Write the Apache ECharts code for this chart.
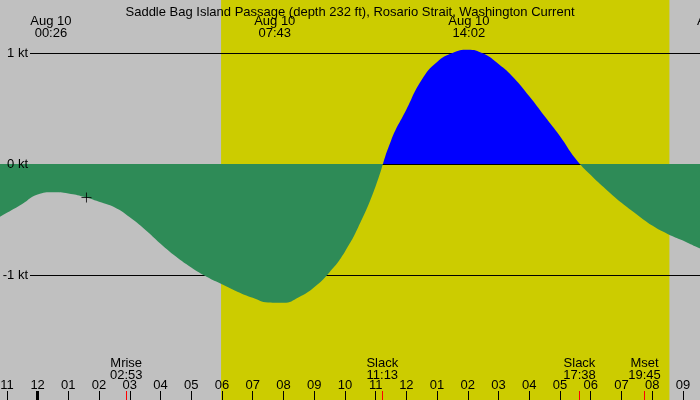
<!DOCTYPE html>
<html>
<head>
<meta charset="utf-8">
<title>Saddle Bag Island Passage current</title>
<script src="https://cdn.jsdelivr.net/npm/echarts@6/dist/echarts.min.js"></script>
<style>
    html, body { margin: 0; padding: 0; background: #c0c0c0; }
    #chart { width: 700px; height: 400px; }
</style>
</head>
<body>
<div id="chart"></div>
<script>
// hours since midnight Aug 10 (negative = Aug 9 evening), half-hour steps
const hours = [-1.5, -1.0, -0.5, 0.0, 0.5, 1.0, 1.5, 2.0, 2.5, 3.0, 3.5, 4.0, 4.5, 5.0, 5.5,
    6.0, 6.5, 7.0, 7.5, 8.0, 8.5, 9.0, 9.5, 10.0, 10.5, 11.0, 11.5, 12.0, 12.5, 13.0, 13.5,
    14.0, 14.5, 15.0, 15.5, 16.0, 16.5, 17.0, 17.5, 18.0, 18.5, 19.0, 19.5, 20.0, 20.5,
    21.0, 21.5, 22.0];
// current in knots (flood +, ebb -)
const knots = [-0.52, -0.44, -0.36, -0.275, -0.255, -0.265, -0.295, -0.34, -0.39, -0.48, -0.592,
    -0.718, -0.834, -0.932, -1.015, -1.083, -1.15, -1.205, -1.247, -1.25, -1.2, -1.11, -0.975,
    -0.79, -0.53, -0.2, 0.21, 0.49, 0.76, 0.92, 1.0, 1.03, 0.995, 0.9, 0.775, 0.61, 0.43, 0.25,
    0.05, -0.1, -0.23, -0.35, -0.455, -0.555, -0.63, -0.69, -0.755, -0.81];

const hourTicks = [-1, 0, 1, 2, 3, 4, 5, 6, 7, 8, 9, 10, 11, 12, 13, 14, 15, 16, 17, 18, 19, 20, 21, 22];
const hourLabels = ['11', '12', '01', '02', '03', '04', '05', '06', '07', '08', '09', '10', '11',
    '12', '01', '02', '03', '04', '05', '06', '07', '08', '09', '10'];

// max / min current events shown at the top
const peakHours = [0.433, 7.717, 14.033, 22.13];
const peakLabels = ['Aug 10\n00:26', 'Aug 10\n07:43', 'Aug 10\n14:02', 'Aug 10\n22:08'];

// slack water and moon events shown at the bottom
const eventHours = [2.883, 11.217, 17.633, 19.75];
const eventLabels = ['Mrise\n02:53', 'Slack\n11:13', 'Slack\n17:38', 'Mset\n19:45'];

const daylight = [5.97, 20.56];
const nowMark = [1.59, -0.302];

const kLevels = [1, 0, -1];

const X_MIN = -1.224, X_MAX = 22.857;
const Y_MIN = -2.126, Y_MAX = 1.4775;
const FONT = 'Liberation Sans, Arial, sans-serif';
const FS = 13;

const chart = echarts.init(document.getElementById('chart'));

function nearest(list, v) {
    let best = 0;
    list.forEach((h, i) => { if (Math.abs(h - v) < Math.abs(list[best] - v)) best = i; });
    return best;
}

function baseX(extra) {
    return Object.assign({
        type: 'value',
        gridIndex: 0,
        min: X_MIN,
        max: X_MAX,
        position: 'bottom',
        axisLine: { show: false, onZero: false },
        splitLine: { show: false },
        axisTick: { show: false },
        axisLabel: { show: false }
    }, extra);
}

const option = {
    backgroundColor: '#c0c0c0',
    animation: false,
    textStyle: { fontFamily: FONT },
    title: {
        text: 'Saddle Bag Island Passage (depth 232 ft), Rosario Strait, Washington Current',
        left: 'center',
        top: 1,
        textStyle: { fontFamily: FONT, fontSize: FS, fontWeight: 'normal', color: '#000' }
    },
    grid: [
        // wider than the canvas so the cut-off label on the right can exist
        { left: 0, top: 0, bottom: 0, width: 740, outerBoundsMode: 'none', containLabel: false },
        { left: 30, right: 0, top: 0, bottom: 0, outerBoundsMode: 'none', containLabel: false }
    ],
    xAxis: [
        baseX({
            axisTick: {
                show: true, inside: true, length: 9,
                customValues: hourTicks,
                lineStyle: { color: '#000', width: 1 }
            },
            axisLabel: {
                show: true, inside: true, margin: 8,
                customValues: hourTicks,
                color: '#000', fontSize: FS, fontFamily: FONT,
                formatter: function (v) {
                    const i = hourTicks.indexOf(Math.round(v));
                    return i >= 0 ? hourLabels[i] : '';
                }
            }
        }),
        baseX({
            axisTick: {
                show: true, inside: true, length: 9,
                customValues: [0],
                lineStyle: { color: '#000', width: 3 }
            }
        }),
        baseX({
            axisTick: {
                show: true, inside: true, length: 9,
                customValues: eventHours,
                lineStyle: { color: '#ff0000', width: 1 }
            },
            axisLabel: {
                show: true, inside: true, margin: 19,
                customValues: eventHours,
                color: '#000', fontSize: FS, lineHeight: 12, fontFamily: FONT,
                formatter: function (v) { return eventLabels[nearest(eventHours, v)]; }
            }
        }),
        baseX({
            position: 'top',
            axisLabel: {
                show: true, inside: true, margin: 15,
                customValues: peakHours,
                color: '#000', fontSize: FS, lineHeight: 12, fontFamily: FONT,
                formatter: function (v) { return peakLabels[nearest(peakHours, v)]; }
            }
        }),
        { type: 'value', gridIndex: 1, min: 0, max: 1, show: false }
    ],
    yAxis: [
        { type: 'value', gridIndex: 0, min: Y_MIN, max: Y_MAX, show: false },
        {
            type: 'value',
            gridIndex: 1,
            min: Y_MIN,
            max: Y_MAX,
            z: 5,
            axisLine: { show: false, onZero: false },
            axisTick: { show: false },
            splitLine: { show: false },
            axisLabel: {
                margin: 2,
                customValues: kLevels,
                color: '#000', fontSize: FS, fontFamily: FONT,
                formatter: function (v) { return Math.round(v) + ' kt'; }
            }
        }
    ],
    visualMap: {
        show: false,
        type: 'piecewise',
        seriesIndex: 2,
        dimension: 1,
        pieces: [
            { gte: -5, lt: 0, color: '#2e8b57' },
            { gte: 0, lte: 5, color: '#0000ff' }
        ]
    },
    series: [
        {
            // daylight band
            type: 'line',
            xAxisIndex: 0,
            yAxisIndex: 0,
            data: [],
            silent: true,
            markArea: {
                silent: true,
                z: 0,
                itemStyle: { color: '#cccc00', opacity: 1 },
                data: [[{ xAxis: daylight[0] }, { xAxis: daylight[1] }]]
            }
        },
        {
            // knot level lines
            type: 'line',
            xAxisIndex: 4,
            yAxisIndex: 1,
            data: [],
            silent: true,
            markLine: {
                silent: true,
                z: 1,
                symbol: ['none', 'none'],
                label: { show: false },
                lineStyle: { color: '#000', type: 'solid', width: 1 },
                data: kLevels.map(k => ({ yAxis: k }))
            }
        },
        {
            type: 'line',
            xAxisIndex: 0,
            yAxisIndex: 0,
            z: 2,
            smooth: 0.5,
            symbol: 'none',
            lineStyle: { width: 0, opacity: 0 },
            areaStyle: { opacity: 1 },
            data: hours.map((h, i) => [h, knots[i]])
        },
        {
            type: 'scatter',
            xAxisIndex: 0,
            yAxisIndex: 0,
            z: 3,
            symbol: 'path://M0,5L10,5M5,0L5,10',
            symbolSize: 10,
            itemStyle: { color: 'none', borderColor: '#000', borderWidth: 1 },
            data: [nowMark]
        }
    ]
};

chart.setOption(option);
window.addEventListener('resize', function () {
    chart.resize();
});
</script>
</body>
</html>
